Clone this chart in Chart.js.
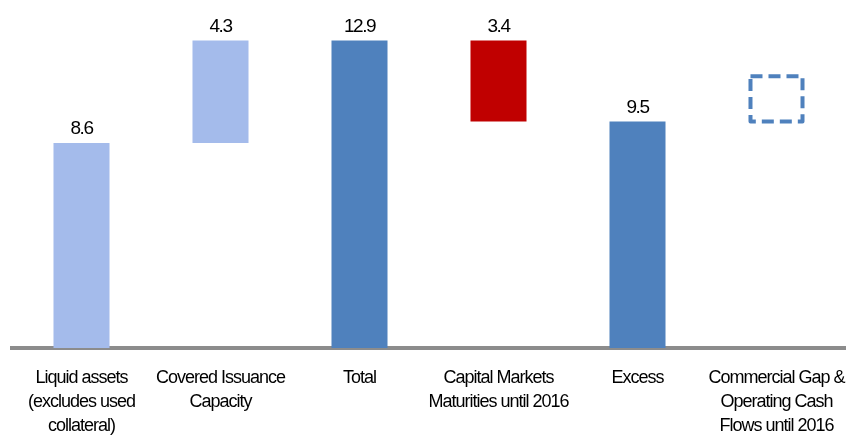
<!DOCTYPE html>
<html>
<head>
<meta charset="utf-8">
<script src="https://cdn.jsdelivr.net/npm/chart.js@4"></script>
<style>
  html, body { margin: 0; padding: 0; background: #ffffff; }
  #wrap { width: 846px; height: 441px; }
</style>
</head>
<body>
<div id="wrap"><canvas id="c" width="846" height="441"></canvas></div>
<script>
const categories = [
  ["Liquid assets", "(excludes used", "collateral)"],
  ["Covered Issuance", "Capacity"],
  "Total",
  ["Capital Markets", "Maturities until 2016"],
  "Excess",
  ["Commercial Gap &", "Operating Cash", "Flows until 2016"]
];
const barStart = [0, 8.6, 0, 9.5, 0, 9.5];
const barEnd = [8.6, 12.9, 12.9, 12.9, 9.5, 11.4];
const valueLabels = ["8.6", "4.3", "12.9", "3.4", "9.5", ""];
const dashedIndex = 5;

const barColors = ["#A4BBEB", "#A4BBEB", "#4F81BD", "#C00000", "#4F81BD", "rgba(0,0,0,0)"];
const FONT = "'Liberation Sans', Arial, sans-serif";

const floatData = barStart.map((s, i) => [s, barEnd[i]]);

const spacingPlugin = {
  id: 'spacing',
  beforeLayout(chart) { chart.ctx.letterSpacing = "-1px"; },
  beforeDraw(chart) { chart.ctx.letterSpacing = "-1px"; }
};

const overlayPlugin = {
  id: 'overlay',
  afterDatasetsDraw(chart) {
    const ctx = chart.ctx;
    const meta = chart.getDatasetMeta(0);
    meta.data.forEach((el, i) => {
      const p = el.getProps(['x', 'y', 'base', 'width'], true);
      const top = Math.min(p.y, p.base), bottom = Math.max(p.y, p.base);
      if (i === dashedIndex) {
        ctx.save();
        ctx.strokeStyle = "#4F81BD";
        ctx.lineWidth = 4;
        ctx.setLineDash([12, 6]);
        ctx.lineJoin = 'round';
        ctx.strokeRect(p.x - p.width / 2 + 2, top, p.width - 4, bottom - top);
        ctx.restore();
      }
      if (valueLabels[i]) {
        ctx.save();
        ctx.fillStyle = "#000000";
        ctx.font = "19px " + FONT;
        ctx.letterSpacing = "-1.5px";
        ctx.textAlign = 'center';
        ctx.textBaseline = 'alphabetic';
        ctx.fillText(valueLabels[i], p.x, top - 9);
        ctx.restore();
      }
    });
  }
};

new Chart(document.getElementById('c'), {
  type: 'bar',
  data: {
    labels: categories,
    datasets: [{
      data: floatData,
      backgroundColor: barColors,
      borderWidth: 0,
      barPercentage: 0.403,
      categoryPercentage: 1.0
    }]
  },
  options: {
    responsive: false,
    animation: false,
    layout: { autoPadding: false, padding: { left: 12, right: 0, top: 0, bottom: 5 } },
    plugins: {
      legend: { display: false },
      tooltip: { enabled: false }
    },
    scales: {
      x: {
        grid: { display: false, drawTicks: false },
        border: { display: true, color: "#8C8C8C", width: 4 },
        afterFit(scale) {
          scale.height = 88;
          scale.paddingLeft = 0;
          scale.paddingRight = 0;
        },
        ticks: {
          color: "#000000",
          padding: 18,
          maxRotation: 0,
          autoSkip: false,
          font: { family: FONT, size: 18, lineHeight: 1.333 }
        }
      },
      y: {
        display: false,
        min: 0,
        max: 14.6
      }
    }
  },
  plugins: [spacingPlugin, overlayPlugin]
});
</script>
</body>
</html>
